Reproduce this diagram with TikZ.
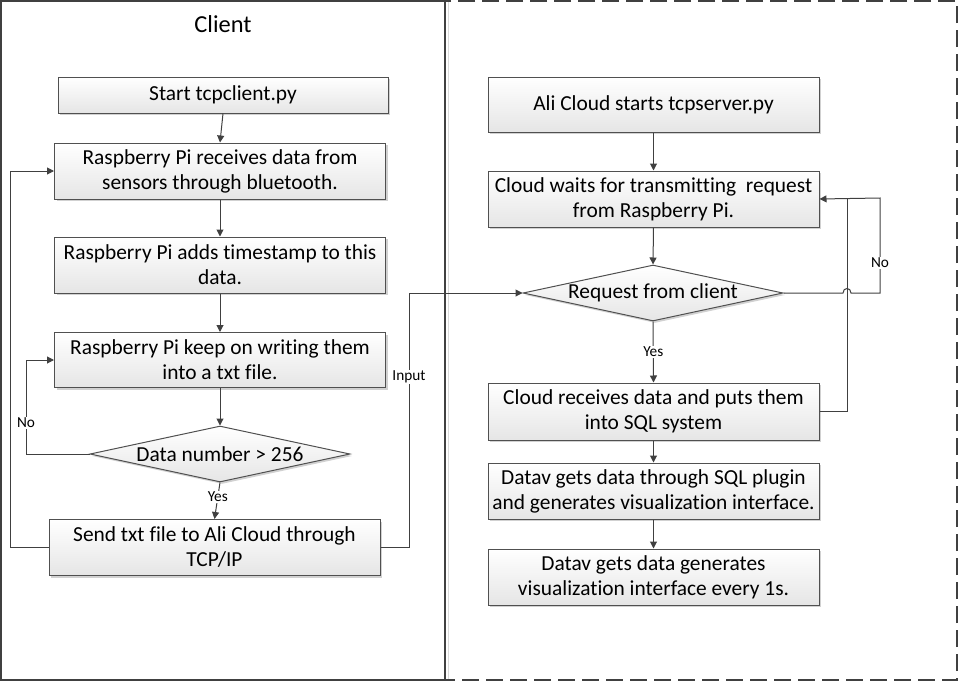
\documentclass[tikz,border=0pt]{standalone}
\usepackage{fontspec}
\setmainfont{Carlito}[Ligatures=CommonOff]
\usetikzlibrary{shapes.geometric,arrows.meta,shadows}
\definecolor{ln}{HTML}{404040}
\definecolor{bd}{HTML}{505050}
\tikzset{
  boxbase/.style={draw=bd, line width=1pt, top color=white, bottom color=black!10,
    drop shadow={shadow xshift=2pt, shadow yshift=-2pt, fill=black!18, opacity=1},
    align=center, inner sep=0pt, font=\fontsize{21.4}{25}\selectfont},
  procbox/.style={boxbase, rectangle, minimum width=331pt, minimum height=56pt},
  decbox/.style={boxbase, diamond, aspect=4.64, minimum width=260pt, minimum height=56pt, inner sep=0pt},
  flow/.style={draw=ln, line width=1pt, -{Triangle[length=7pt,width=7pt]}},
  plain/.style={draw=ln, line width=1pt},
  lbl/.style={fill=white, inner sep=1pt, font=\fontsize{15.3}{17}\selectfont},
}
\begin{document}
\begin{tikzpicture}[x=1pt,y=-1pt]
\useasboundingbox (0,0) rectangle (959,683);
% frames
\draw[black!15, line width=0.8pt] (448,1) -- (448,680);
\draw[ln, line width=1.1pt] (1,1) rectangle (445,680);
\draw[ln, line width=1.1pt, dash pattern=on 17pt off 7pt] (445,1) rectangle (957,680);
\node[font=\fontsize{24.4}{28}\selectfont] (title) at (223,24) {Client};

% left column
\node[procbox, minimum width=330pt, minimum height=36pt] (start) at (223,95) {Start tcpclient.py};
\node[procbox] (recv) at (220,171) {Raspberry Pi receives data from\\sensors through bluetooth.};
\node[procbox] (stamp) at (220,265) {Raspberry Pi adds timestamp to this\\data.};
\node[procbox, minimum height=55pt] (keep) at (220,360) {Raspberry Pi keep on writing them\\into a txt file.};
\node[decbox] (dec1) at (220,454) {Data number > 256};
\node[procbox] (send) at (214.5,547.5) {Send txt file to Ali Cloud through\\TCP/IP};

% right column
\node[procbox, minimum height=55pt] (srv) at (653.5,104.5) {Ali Cloud starts tcpserver.py};
\node[procbox] (wait) at (653.5,199) {Cloud waits for transmitting\ \ request\\from Raspberry Pi.};
\node[decbox] (dec2) at (653,293) {Request from client};
\node[procbox, minimum height=57pt] (cr) at (653.5,411.5) {Cloud receives data and puts them\\into SQL system};
\node[procbox] (dv1) at (653.5,491) {Datav gets data through SQL plugin\\and generates visualization interface.};
\node[procbox] (dv2) at (653.5,577) {Datav gets data generates\\visualization interface every 1s.};

% left connectors
\draw[flow] (start.south) -- (recv.north);
\draw[flow] (recv.south) -- (stamp.north);
\draw[flow] (stamp.south) -- (keep.north);
\draw[flow] (keep.south) -- (dec1.north);
\draw[flow] (dec1.south) -- node[lbl, pos=0.4] (yes1) {Yes} (send.north);
\draw[flow] (send.west) -- (10,547.5) |- (recv.west);
\draw[flow] (dec1.west) -- (26,454) |- node[lbl, pos=0.165] (no1) {No} (keep.west);
\draw[flow] (send.east) -- (409,547.5) |- node[lbl, pos=0.335] (inp) {Input} (dec2.west);

% right connectors
\draw[flow] (srv.south) -- (wait.north);
\draw[flow] (wait.south) -- (dec2.north);
\draw[flow] (dec2.south) -- node[lbl, pos=0.5] (yes2) {Yes} (cr.north);
\draw[flow] (cr.south) -- (dv1.north);
\draw[flow] (dv1.south) -- (dv2.north);
\coordinate (hopA) at (843,293);
\coordinate (hopB) at (851,293);
\coordinate (merge) at (847,198);
\draw[flow] (dec2.east) -- (hopA) .. controls (843,287) and (851,287) .. (hopB) -- (880,293)
  -- node[lbl, pos=0.32] (no2) {No} (880,198) -- (wait.east);
\draw[plain] (cr.east) -- (847,411.5) -- (merge);
\end{tikzpicture}
\end{document}
